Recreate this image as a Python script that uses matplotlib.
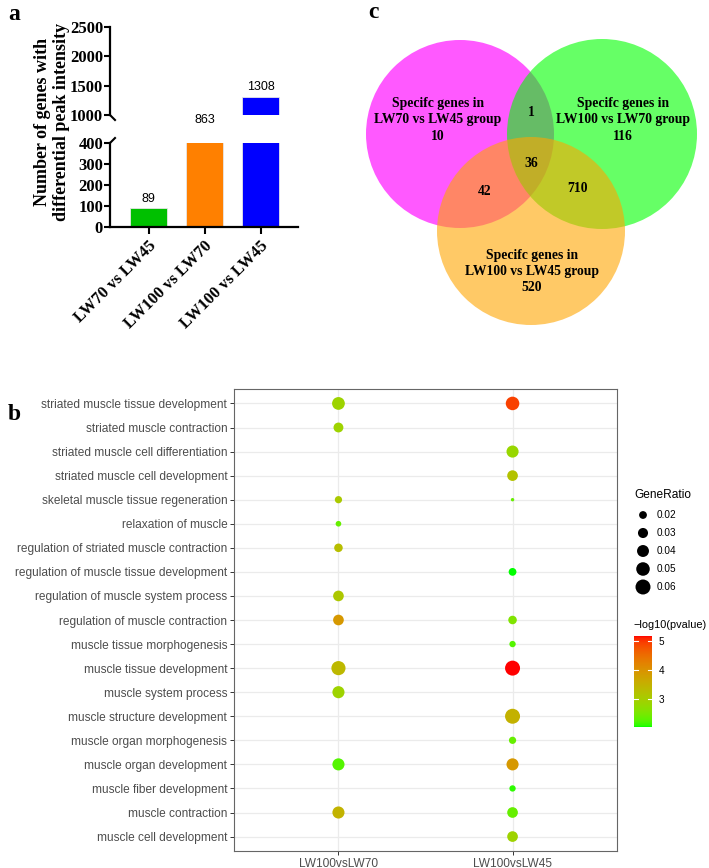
import numpy as np
import matplotlib
matplotlib.use("Agg")
import matplotlib.pyplot as plt
import matplotlib.colors as mcolors
from matplotlib.cm import ScalarMappable
from matplotlib.patches import Circle

# ---- panel a: counts of genes
comparisons = ["LW70 vs LW45", "LW100 vs LW70", "LW100 vs LW45"]
counts = [89, 863, 1308]
bar_colors = ["#00C000", "#FF8000", "#0000FF"]

# ---- panel c: venn counts
venn_labels = ["Specifc genes in\nLW70 vs LW45 group",
               "Specifc genes in\nLW100 vs LW70 group",
               "Specifc genes in\nLW100 vs LW45 group"]
venn_only = [10, 116, 520]
venn_70_100_70 = 1
venn_70_100_45 = 42
venn_10070_10045 = 710
venn_all = 36

# ---- panel b: GO terms dot plot
terms = ["striated muscle tissue development", "striated muscle contraction",
         "striated muscle cell differentiation", "striated muscle cell development",
         "skeletal muscle tissue regeneration", "relaxation of muscle",
         "regulation of striated muscle contraction", "regulation of muscle tissue development",
         "regulation of muscle system process", "regulation of muscle contraction",
         "muscle tissue morphogenesis", "muscle tissue development",
         "muscle system process", "muscle structure development",
         "muscle organ morphogenesis", "muscle organ development",
         "muscle fiber development", "muscle contraction", "muscle cell development"]
groups = ["LW100vsLW70", "LW100vsLW45"]

lw70_terms = [0, 1, 4, 5, 6, 8, 9, 11, 12, 15, 17]
lw70_ratio = [0.045, 0.029, 0.018, 0.013, 0.023, 0.033, 0.033, 0.054, 0.041, 0.041, 0.041]
lw70_logp = [2.88, 2.9, 3.07, 2.35, 3.28, 3.1, 3.9, 3.38, 2.9, 2.25, 3.47]

lw45_terms = [0, 2, 3, 4, 7, 9, 10, 11, 13, 14, 15, 16, 17, 18]
lw45_ratio = [0.05, 0.041, 0.033, 0.008, 0.020, 0.023, 0.015, 0.060, 0.060, 0.018, 0.041, 0.015, 0.033, 0.033]
lw45_logp = [4.92, 2.82, 3.2, 2.35, 2.03, 2.56, 2.25, 5.17, 3.5, 2.35, 3.9, 2.1, 2.35, 2.9]

legend_ratios = [0.02, 0.03, 0.04, 0.05, 0.06]
cbar_ticks = [3, 4, 5]

W, H = 709, 868
fig = plt.figure(figsize=(W / 100, H / 100), dpi=100)
SERIF = "Liberation Serif"
SANS = "Liberation Sans"


def px_axes(x0, y0, x1, y1):
    return fig.add_axes([x0 / W, 1 - y1 / H, (x1 - x0) / W, (y1 - y0) / H])


# green -> red gradient in Lab space (like ggplot scale_colour_gradient)
M = np.array([[0.4124, 0.3576, 0.1805], [0.2126, 0.7152, 0.0722], [0.0193, 0.1192, 0.9505]])
WHITE = np.array([0.95047, 1.0, 1.08883])


def to_lab(c):
    rgb = np.array(mcolors.to_rgb(c))
    lin = np.where(rgb <= 0.04045, rgb / 12.92, ((rgb + 0.055) / 1.055) ** 2.4)
    xyz = M @ lin / WHITE
    f = np.where(xyz > (6 / 29) ** 3, np.cbrt(xyz), xyz / (3 * (6 / 29) ** 2) + 4 / 29)
    return np.array([116 * f[1] - 16, 500 * (f[0] - f[1]), 200 * (f[1] - f[2])])


def from_lab(lab):
    fy = (lab[:, 0] + 16) / 116
    f = np.stack([fy + lab[:, 1] / 500, fy, fy - lab[:, 2] / 200], -1)
    xyz = np.where(f > 6 / 29, f ** 3, 3 * (6 / 29) ** 2 * (f - 4 / 29)) * WHITE
    lin = np.clip(xyz @ np.linalg.inv(M).T, 0, None)
    rgb = np.where(lin <= 0.0031308, 12.92 * lin, 1.055 * lin ** (1 / 2.4) - 0.055)
    return np.clip(rgb, 0, 1)


t = np.linspace(0, 1, 256)[:, None]
cmap = mcolors.ListedColormap(from_lab(to_lab("#00FF00") * (1 - t) + to_lab("#FF0000") * t))
norm = mcolors.Normalize(2.03, 5.17)


def dot_size(r):
    d = 1.07 * np.sqrt(np.maximum(3575 * np.asarray(r) - 18.5, 1.0))
    return (0.72 * d) ** 2


# ================= panel a =================
lower = px_axes(110, 143, 298, 227)
upper = px_axes(110, 27, 298, 115)
x = np.arange(len(counts))
for ax in (lower, upper):
    ax.bar(x, counts, width=0.66, color=bar_colors, edgecolor="#e6e6e6", linewidth=0.6)
    ax.set_xlim(-0.69, 2.67)
    for s in ("top", "right"):
        ax.spines[s].set_visible(False)
    ax.spines["left"].set_linewidth(1.6)
    ax.spines["bottom"].set_linewidth(1.6)
    ax.tick_params(axis="y", direction="out", length=4, width=1.5, pad=1)
    ax.patch.set_visible(False)
upper.spines["bottom"].set_visible(False)
upper.set_ylim(1000, 2500)
upper.set_yticks([1000, 1500, 2000, 2500])
upper.set_xticks([])
lower.set_ylim(0, 400)
lower.set_yticks([0, 100, 200, 300, 400])
lower.set_xticks(x)
lower.set_xticklabels(comparisons, rotation=45, ha="right", rotation_mode="anchor")
lower.tick_params(axis="x", direction="out", length=5, width=1.5, pad=3)
for ax in (lower, upper):
    for lab in ax.get_yticklabels() + ax.get_xticklabels():
        lab.set_fontfamily(SERIF)
        lab.set_fontweight("bold")
        lab.set_fontsize(12)

for i, v in enumerate(counts):
    kw = dict(textcoords="offset points", ha="center", va="bottom", fontsize=9,
              family=SANS, annotation_clip=False)
    if v >= 1000:
        upper.annotate(str(v), (i, v), xytext=(0, 2.5), **kw)
    elif v > 400:
        lower.annotate(str(v), (i, 400), xytext=(0, 12), **kw)
    else:
        lower.annotate(str(v), (i, v), xytext=(0, 2.5), **kw)

fig.text(52 / W, 1 - 122 / H, "Number of genes with\ndifferential peak intensity",
         rotation=90, ha="center", va="center", family=SERIF, weight="bold",
         fontsize=13, linespacing=1.1)

# ================= overlay (letters, break marks, legend) =================
ov = fig.add_axes([0, 0, 1, 1])
ov.set_xlim(0, W)
ov.set_ylim(H, 0)
ov.axis("off")
ov.plot([110, 115], [115, 120], color="black", lw=1.5)
ov.plot([110, 115], [143, 138], color="black", lw=1.5)
for ch, (px, py) in zip("acb", [(14, 14), (373, 12), (14, 414)]):
    ov.text(px, py, ch, family=SERIF, weight="bold", fontsize=17, ha="center", va="center")

# ================= panel c (venn) =================
vax = fig.add_axes([330 / W, 1 - 330 / H, 379 / W, 310 / H])
vax.set_xlim(330, 709)
vax.set_ylim(330, 20)
vax.axis("off")
vax.add_patch(Circle((460, 134), 94, facecolor=(1, 0, 1, 0.65), edgecolor="none"))
vax.add_patch(Circle((602, 134), 95, facecolor=(0, 1, 0, 0.6), edgecolor="none"))
vax.add_patch(Circle((531, 231), 94, facecolor=(1, 0.647, 0, 0.6), edgecolor="none"))
vkw = dict(ha="center", va="center", family=SERIF, weight="bold", fontsize=9.8, linespacing=1.3)
vax.text(438, 120, "%s\n%d" % (venn_labels[0], venn_only[0]), **vkw)
vax.text(623, 120, "%s\n%d" % (venn_labels[1], venn_only[1]), **vkw)
vax.text(532, 271, "%s\n%d" % (venn_labels[2], venn_only[2]), **vkw)
vax.text(531, 112, str(venn_70_100_70), **vkw)
vax.text(531, 163, str(venn_all), **vkw)
vax.text(485, 191, str(venn_70_100_45), **vkw)
vax.text(578, 188, str(venn_10070_10045), **vkw)

# ================= panel b (dot plot) =================
bx = px_axes(234, 389, 617, 851)
bx.set_xlim(0.4, 2.6)
bx.set_ylim(len(terms) + 0.6, 0.4)
for col, (tr, rr, pp) in enumerate([(lw70_terms, lw70_ratio, lw70_logp),
                                     (lw45_terms, lw45_ratio, lw45_logp)]):
    bx.scatter(np.full(len(tr), col + 1), np.array(tr) + 1, s=dot_size(rr), c=pp,
               cmap=cmap, norm=norm, edgecolors="none", zorder=3)
bx.set_xticks([1, 2])
bx.set_xticklabels(groups)
bx.set_yticks(np.arange(1, len(terms) + 1))
bx.set_yticklabels(terms)
bx.grid(True, color="#EBEBEB", lw=0.9)
bx.set_axisbelow(True)
bx.tick_params(length=2.8, width=0.7, color="#333333", labelcolor="#4D4D4D",
               labelsize=8.6, pad=2)
for lab in bx.get_xticklabels() + bx.get_yticklabels():
    lab.set_fontfamily(SANS)
for s in bx.spines.values():
    s.set_color("#666666")
    s.set_linewidth(0.8)

# size legend
ov.text(634, 495, "GeneRatio", family=SANS, fontsize=8.6, ha="left", va="center")
ly = 515 + 18 * np.arange(len(legend_ratios))
ov.scatter(np.full(len(legend_ratios), 643), ly, s=dot_size(legend_ratios),
           color="black", edgecolors="none")
for r, yy in zip(legend_ratios, ly):
    ov.text(657, yy, "%.2f" % r, family=SANS, fontsize=7.2, ha="left", va="center")

# colour bar
ov.text(633, 625, "\u2212log10(pvalue)", family=SANS, fontsize=7.9, ha="left", va="center")
cax = px_axes(634, 636, 652, 727)
cb = fig.colorbar(ScalarMappable(norm=norm, cmap=cmap), cax=cax)
cb.outline.set_visible(False)
cb.set_ticks(cbar_ticks)
cax.tick_params(length=0, labelsize=7.2, pad=5)
for lab in cax.get_yticklabels():
    lab.set_fontfamily(SANS)
for tk in cbar_ticks:
    cax.axhline(tk, xmin=0, xmax=0.2, color="white", lw=0.8)
    cax.axhline(tk, xmin=0.8, xmax=1, color="white", lw=0.8)

fig.savefig("out.png", dpi=100)
